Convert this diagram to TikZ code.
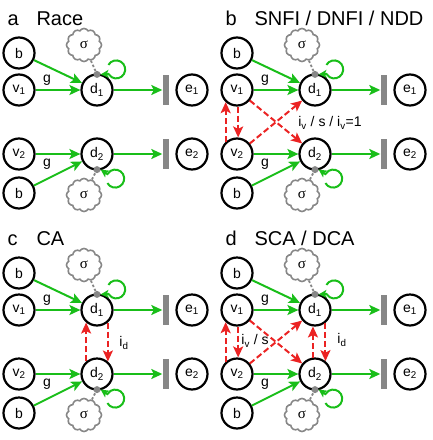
\documentclass[tikz,border=0pt]{standalone}
\usepackage{fontspec}
\setmainfont{Liberation Sans}
\newfontfamily\grk{Liberation Serif}
\usetikzlibrary{arrows.meta,shapes.symbols}

\definecolor{exc}{RGB}{25,190,25}
\definecolor{inhib}{RGB}{235,35,35}
\definecolor{noisegray}{RGB}{135,135,135}

\def\idx#1{\textsubscript{#1}}

% the two racing units of one panel, #1 = panel prefix
\def\racepair#1{
  \foreach \n/\x/\y/\t in {b1/19/53/b, v1/19/90/v\idx1, d1/97/90/d\idx1, e1/192/90/e\idx1,
                          v2/19/154/v\idx2, d2/97/154/d\idx2, e2/192/154/e\idx2, b2/19/193/b}
    \node[unit] (#1\n) at (\x,\y) {\t};
  \node[bound] (#1r1) at (165.5,90) {};
  \node[bound] (#1r2) at (165.5,154) {};
  \node[dot] (#1p1) at ([yshift=-1pt]#1d1.north) {};
  \node[dot] (#1p2) at ([yshift=1pt]#1d2.south) {};
  \node[noise] (#1n1) at (84,45) {{\grk σ}};
  \node[noise] (#1n2) at (84,195) {{\grk σ}};
  \draw[noiseline] (#1n1) -- (#1p1);
  \draw[noiseline] (#1n2) -- (#1p2);
  \foreach \s/\t in {b1/d1, v1/d1, d1/r1, v2/d2, b2/d2, d2/r2}
    \draw[syn] (#1\s) -- (#1\t);
  \draw[selfloop] (#1p1.east) ++(7.7,-9.5) arc[start angle=-150,end angle=150,radius=9] -- (#1p1.east);
  \draw[selfloop] (#1p2.east) ++(6.7,13.5) arc[start angle=150,end angle=-150,radius=9] -- (#1p2.east);
  \node[lbl] (#1g1) at (47,80) {g};
  \node[lbl] (#1g2) at (47,164) {g};
}

% crossed inhibition between the v units
\def\vcross#1{
  \draw[inh] (#1v2.133) -- (#1v1.-133);
  \draw[inh] (#1v1.-86) -- (#1v2.86);
  \draw[inh] (#1v1) -- (#1d2);
  \draw[inh] (#1v2) -- (#1d1);
}

\begin{document}
\begin{tikzpicture}[x=1pt,y=-1pt,
  unit/.style={circle,draw=black,line width=2.2pt,minimum size=31pt,inner sep=0pt,
    font=\fontsize{14}{14}\selectfont},
  bound/.style={fill=noisegray,minimum width=6pt,minimum height=30pt,inner sep=0pt},
  dot/.style={circle,fill=noisegray,minimum size=7pt,inner sep=0pt},
  noise/.style={cloud,cloud puffs=12,cloud puff arc=120,draw=noisegray,
    line width=1.6pt,minimum width=35pt,minimum height=33pt,inner sep=0pt,
    font=\fontsize{15}{15}\selectfont},
  noiseline/.style={noisegray,line width=1.8pt,dash pattern=on 2.5pt off 2pt},
  syn/.style={exc,line width=2pt,-{Stealth[length=11pt,width=10pt,inset=2.5pt]}},
  selfloop/.style={exc,line width=2pt,-{Stealth[length=8pt,width=8pt,inset=2pt]}},
  inh/.style={inhib,line width=2pt,dash pattern=on 6pt off 3pt,
    -{Stealth[length=11pt,width=10pt,inset=2.5pt]}},
  lbl/.style={font=\fontsize{14}{14}\selectfont},
  tag/.style={anchor=base west,font=\fontsize{20}{20}\selectfont}]
  \useasboundingbox (0,0) rectangle (432,440);

  \begin{scope}
    \racepair{a}
    \node[tag] (a-key) at (4,25) {a};
    \node[tag] (a-name) at (33,25) {Race};
  \end{scope}

  \begin{scope}[shift={(218,0)}]
    \racepair{b}
    \vcross{b}
    \node[lbl] (b-iv) at (112,123) {i\idx{v} / s / i\idx{v}=1};
    \node[tag] (b-key) at (4,25) {b};
    \node[tag] (b-name) at (33,25) {SNFI / DNFI / NDD};
  \end{scope}

  \begin{scope}[shift={(0,220)}]
    \racepair{c}
    \draw[inh] (cd2.131) -- (cd1.-131);
    \draw[inh] (cd1.-49) -- (cd2.49);
    \node[lbl] (c-id) at (124,123) {i\idx{d}};
    \node[tag] (c-key) at (4,25) {c};
    \node[tag] (c-name) at (33,25) {CA};
  \end{scope}

  \begin{scope}[shift={(218,220)}]
    \racepair{d}
    \vcross{d}
    \draw[inh] (dd2.97) -- (dd1.-97);
    \draw[inh] (dd1.-51) -- (dd2.51);
    \node[lbl] (d-iv) at (37,121) {i\idx{v} / s};
    \node[lbl] (d-id) at (124,120) {i\idx{d}};
    \node[tag] (d-key) at (4,25) {d};
    \node[tag] (d-name) at (33,25) {SCA / DCA};
  \end{scope}
\end{tikzpicture}
\end{document}
